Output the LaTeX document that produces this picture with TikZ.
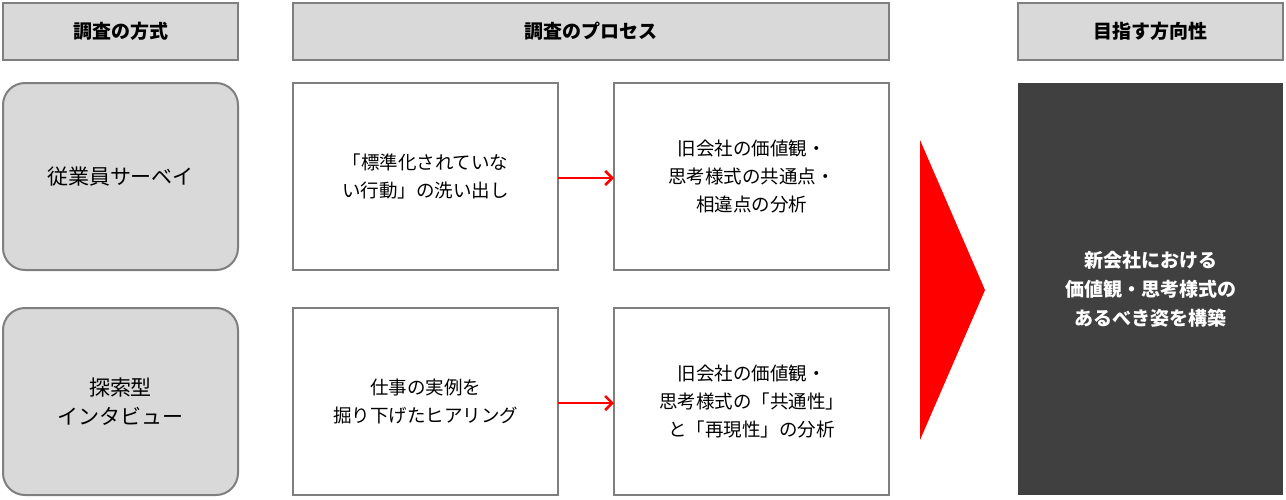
\documentclass[tikz,border=0pt]{standalone}
\usepackage{fontspec}
\setmainfont{Noto Sans CJK JP}
\usetikzlibrary{arrows.meta}
\definecolor{hdr}{HTML}{D9D9D9}
\definecolor{brd}{HTML}{7F7F7F}
\definecolor{dark}{HTML}{404040}
\begin{document}
\begin{tikzpicture}[x=1pt,y=-1pt,
  hbox/.style={draw=brd,line width=1.5pt,fill=hdr,font=\fontsize{19}{23}\selectfont\bfseries},
  rbox/.style={draw=brd,line width=2pt,fill=hdr,rounded corners=22pt,font=\fontsize{21}{29}\selectfont,align=center},
  wbox/.style={draw=brd,line width=1.5pt,fill=white,font=\fontsize{18.5}{28}\selectfont,align=center},
  rarr/.style={draw=red,line width=2.5pt,-{Straight Barb[length=7pt,width=14pt]}}]
\useasboundingbox (0,0) rectangle (1286,499);
\path[hbox] (3,3) rectangle (238,60) node[midway] (h1) {調査の方式};
\path[hbox] (293,3) rectangle (889,60) node[midway] (h2) {調査のプロセス};
\path[hbox] (1018,3) rectangle (1283,60) node[midway] (h3) {目指す方向性};
\path[rbox] (3,83) rectangle (238,270) node[midway] (m1) {従業員サーベイ};
\path[rbox] (3,308) rectangle (238,495) node[midway] (m2) {探索型\\インタビュー};
\path[wbox] (293,83) rectangle (558,270) node[midway] (p1) {「標準化されていな\\い行動」の洗い出し};
\path[wbox] (614,83) rectangle (889,270) node[midway] (a1) {旧会社の価値観・\\思考様式の共通点・\\相違点の分析};
\path[wbox] (293,308) rectangle (558,495) node[midway] (p2) {仕事の実例を\\掘り下げたヒアリング};
\path[wbox] (614,308) rectangle (889,495) node[midway] (a2) {旧会社の価値観・\\思考様式の「共通性」\\と「再現性」の分析};
\coordinate (p1e) at (558,178); \coordinate (a1w) at (614,178);
\coordinate (p2e) at (558,403); \coordinate (a2w) at (614,403);
\draw[rarr] (p1e) -- (a1w);
\draw[rarr] (p2e) -- (a2w);
\fill[red] (920,140) -- (985,290) -- (920,440) -- cycle;
\path[fill=dark] (1018,83) rectangle (1283,495) node[midway,text=white,font=\fontsize{19}{29}\selectfont\bfseries,align=center] (goal) {新会社における\\価値観・思考様式の\\あるべき姿を構築};
\end{tikzpicture}
\end{document}
